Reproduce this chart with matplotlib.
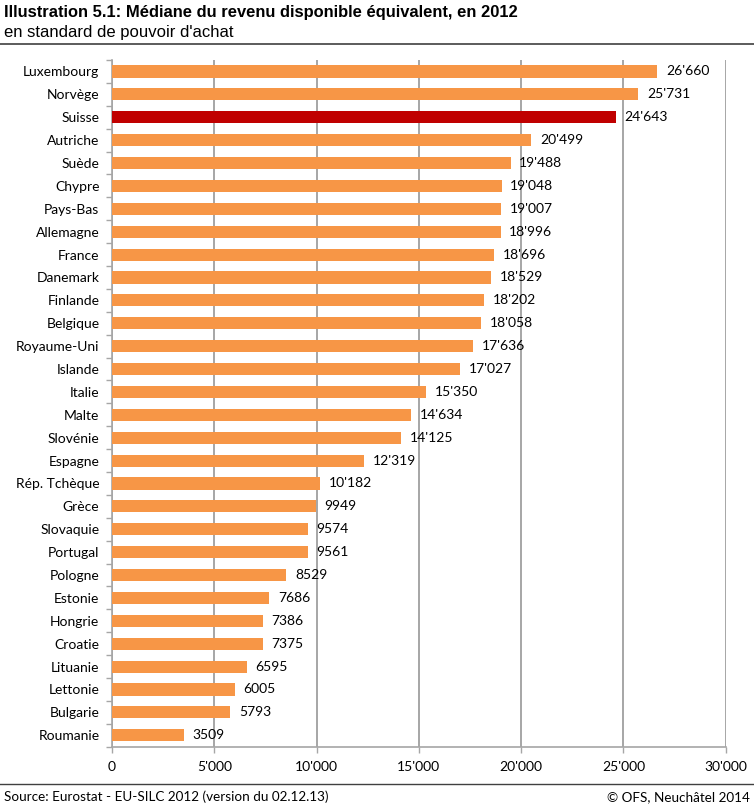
import matplotlib
matplotlib.use("Agg")
import matplotlib.pyplot as plt
from matplotlib.ticker import FuncFormatter

countries = ["Luxembourg", "Norvège", "Suisse", "Autriche", "Suède", "Chypre", "Pays-Bas",
             "Allemagne", "France", "Danemark", "Finlande", "Belgique", "Royaume-Uni", "Islande",
             "Italie", "Malte", "Slovénie", "Espagne", "Rép. Tchèque", "Grèce", "Slovaquie",
             "Portugal", "Pologne", "Estonie", "Hongrie", "Croatie", "Lituanie", "Lettonie",
             "Bulgarie", "Roumanie"]
values = [26660, 25731, 24643, 20499, 19488, 19048, 19007, 18996, 18696, 18529, 18202, 18058,
          17636, 17027, 15350, 14634, 14125, 12319, 10182, 9949, 9574, 9561, 8529, 7686, 7386,
          7375, 6595, 6005, 5793, 3509]
highlight = "Suisse"
xticks = [0, 5000, 10000, 15000, 20000, 25000, 30000]

title = "Illustration 5.1: Médiane du revenu disponible équivalent, en 2012"
subtitle = "en standard de pouvoir d'achat"
source = "Source: Eurostat - EU-SILC 2012 (version du 02.12.13)"
copyright_ = "© OFS, Neuchâtel 2014"

ORANGE = "#F79646"
RED = "#C00000"
GRID = "#A6A6A6"

def fmt(v):
    if v >= 10000:
        return f"{v:,}".replace(",", "'")
    return str(v)

lab_font = ["Lato", "DejaVu Sans"]
title_font = ["Liberation Sans Narrow", "Liberation Sans", "DejaVu Sans"]

fig = plt.figure(figsize=(7.54, 8.09), dpi=100)
ax = fig.add_axes([0.1485, 0.0770, 0.9625 - 0.1485, 0.9258 - 0.0770])

n = len(countries)
ypos = list(range(n))
colors = [RED if c == highlight else ORANGE for c in countries]
ax.barh(ypos, values, height=0.53, color=colors, zorder=3)
ax.set_ylim(n - 0.5, -0.5)
ax.set_xlim(0, 30000)

ax.set_xticks(xticks)
ax.xaxis.set_major_formatter(FuncFormatter(lambda v, p: f"{int(v):,}".replace(",", "'")))
ax.set_yticks(ypos)
ax.set_yticklabels(countries, fontsize=10, family=lab_font)
for lab in ax.get_xticklabels():
    lab.set_family(lab_font)
    lab.set_fontsize(10)

# category separator ticks
ax.set_yticks([i + 0.5 for i in range(-1, n)], minor=True)
ax.tick_params(axis="y", which="major", length=0, pad=9)
ax.tick_params(axis="y", which="minor", length=4, color=GRID, width=1)
ax.tick_params(axis="x", which="major", length=4, color=GRID, width=1, pad=6)

ax.grid(axis="x", color=GRID, linewidth=1.4, zorder=0)
for s in ["top", "right"]:
    ax.spines[s].set_visible(False)
for s in ["left", "bottom"]:
    ax.spines[s].set_color(GRID)
    ax.spines[s].set_linewidth(1.2)

for y, v in zip(ypos, values):
    ax.text(v + 420, y, fmt(v), va="center", ha="left", fontsize=10, family=lab_font, zorder=4)

fig.text(0.005, 1 - 13 / 809, title, fontsize=11.9, fontweight="bold", family=title_font,
         va="center", ha="left")
fig.text(0.005, 1 - 33 / 809, subtitle, fontsize=12, family=title_font, va="center", ha="left")
fig.add_artist(plt.Line2D([0, 1], [1 - 43.5 / 809, 1 - 43.5 / 809], color="#404040", linewidth=1.2,
                          transform=fig.transFigure))
fig.add_artist(plt.Line2D([0, 1], [1 - 784 / 809, 1 - 784 / 809], color="#404040", linewidth=1.0,
                          transform=fig.transFigure))
fig.text(0.005, 1 - 797 / 809, source, fontsize=9.7, family=lab_font, va="center", ha="left")
fig.text(0.995, 1 - 797 / 809, copyright_, fontsize=9.7, family=lab_font, va="center", ha="right")

fig.savefig("out.png", dpi=100)
